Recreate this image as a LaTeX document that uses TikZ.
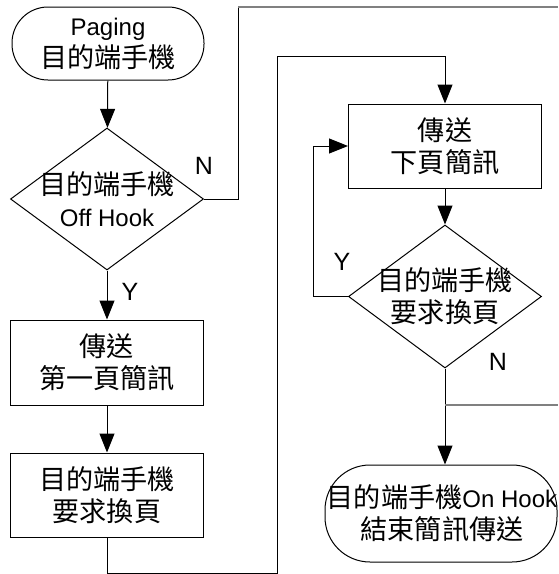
\documentclass[tikz,border=0pt]{standalone}
\usepackage{fontspec}
\setmainfont{Liberation Sans}
\newfontfamily\cjk[Scale=1.13]{Noto Sans CJK TC}
\usetikzlibrary{shapes.geometric,arrows.meta}
\begin{document}
\begin{tikzpicture}[x=1pt,y=-1pt,line width=1pt,
  every node/.style={font=\fontsize{24}{32}\selectfont},
  txt/.style={align=center,inner sep=0pt},
  proc/.style={draw,rectangle,minimum width=193pt,minimum height=85pt,inner sep=0pt,align=center},
  term/.style={draw,rectangle,inner sep=0pt},
  dia/.style={draw,diamond,inner sep=0pt,minimum width=193pt,minimum height=142pt},
  arr/.style={-{Triangle[length=19pt,width=15pt]}},
  grayline/.style={draw=gray,line width=1.5pt},
  lbl/.style={inner sep=0pt,font=\fontsize{25}{28}\selectfont}
]
\useasboundingbox (0,0) rectangle (558,574);
% nodes
\node[term,rounded corners=36pt,minimum width=192pt,minimum height=73pt] (t1) at (108,43.5) {};
\node[txt] at (t1) {Paging\\{\cjk 目的端手機}};
\node[dia] (d1) at (107,199) {};
\node[txt] at (d1) {{\cjk 目的端手機}\\Off Hook};
\node[proc] (b2) at (107,362.5) {{\cjk 傳送}\\{\cjk 第一頁簡訊}};
\node[proc,minimum height=84pt] (b3) at (107,495) {{\cjk 目的端手機}\\{\cjk 要求換頁}};
\node[proc,minimum height=84pt] (b4) at (445,146) {{\cjk 傳送}\\{\cjk 下頁簡訊}};
\node[dia,minimum height=143pt] (d2) at (445,296.5) {};
\node[txt] at (d2) {{\cjk 目的端手機}\\{\cjk 要求換頁}};
\node[term,rounded corners=45pt,minimum width=232pt,minimum height=97pt] (t2) at (441,513.5) {};
\node[txt] at (442,513.5) {{\cjk 目的端手機}On Hook\\{\cjk 結束簡訊傳送}};
% coordinates
\coordinate (c1) at (238,7);
\coordinate (c1e) at (558,7);
\coordinate (c2) at (277,573);
\coordinate (c2t) at (277,56);
\coordinate (c3) at (313,146);
\coordinate (c4) at (445,405);
\coordinate (c4e) at (558,405);
% connectors
\draw[arr] (t1) -- (d1);
\draw (d1.east) -| (c1);
\draw[grayline] (c1) -- (c1e);
\draw[arr] (d1) -- (b2);
\draw[arr] (b2) -- (b3);
\draw[arr] (b3.south) |- (c2) -- (c2t) -| (b4.north);
\draw[arr] (b4) -- (d2);
\draw[arr] (d2.west) -| (c3) -- (b4.west);
\draw[arr] (d2.south) -- (d2.south |- t2.north);
\draw[grayline] (c4) -- (c4e);
% labels
\node[lbl] at (204,166) {N};
\node[lbl] at (130,292) {Y};
\node[lbl] at (342,262) {Y};
\node[lbl] at (498,362) {N};
\end{tikzpicture}
\end{document}
